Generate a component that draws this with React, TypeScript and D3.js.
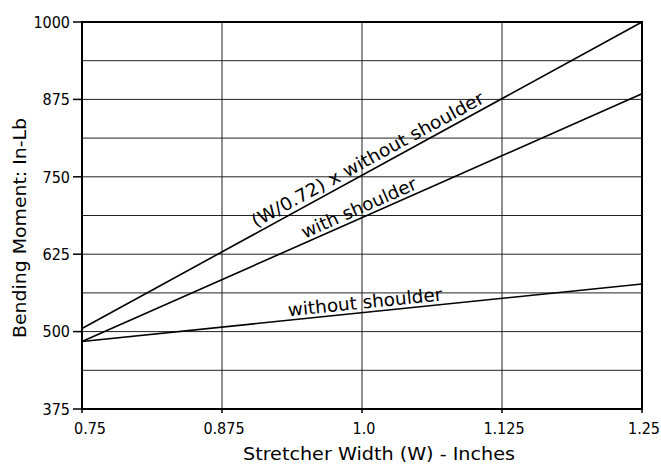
import React from "react";
import * as d3 from "d3";

const widths = [0.75, 1.25];
const withoutShoulder = [484, 577];
const withShoulder = [484, 884];
const scaledWithout = [505, 1000];

const xTicks = [0.75, 0.875, 1.0, 1.125, 1.25];
const xTickLabels = ["0.75", "0.875", "1.0", "1.125", "1.25"];
const yGrid = [375, 437.5, 500, 562.5, 625, 687.5, 750, 812.5, 875, 937.5, 1000];
const yTicks = [375, 500, 625, 750, 875, 1000];
const yTickLabels = ["375", "500", "625", "750", "875", "1000"];

const seriesNames = ["(W/0.72) x without shoulder", "with shoulder", "without shoulder"];

const W = 661, H = 466;
const left = 82, right = 642, top = 22, bottom = 409;
const FONT = "'DejaVu Sans Condensed', 'DejaVu Sans', sans-serif";

export default function App() {
  const x = d3.scaleLinear().domain([0.75, 1.25]).range([left, right]);
  const y = d3.scaleLinear().domain([375, 1000]).range([bottom, top]);
  const line = d3.line<number>().x((_, i) => x(widths[i])).y((d) => y(d));

  const series = [scaledWithout, withShoulder, withoutShoulder];
  // label placement: [x value along line, perpendicular offset px, text length px]
  const labelPos = [
    [1.0098, 5, 262],
    [1.0009, 4, 124],
    [1.0036, 4, 155],
  ];

  return (
    <svg width={W} height={H} style={{ position: "absolute", left: 0, top: 0, background: "#fff" }} fontFamily={FONT}>
      <rect x={0} y={0} width={W} height={H} fill="#fff" />
      {yGrid.map((v) => (
        <line key={"h" + v} x1={left} x2={right} y1={y(v)} y2={y(v)} stroke="#222" strokeWidth={1} />
      ))}
      {xTicks.slice(1, -1).map((v) => (
        <line key={"v" + v} x1={x(v)} x2={x(v)} y1={top} y2={bottom} stroke="#222" strokeWidth={1} />
      ))}
      <rect x={left} y={top} width={right - left} height={bottom - top} fill="none" stroke="#000" strokeWidth={2} />
      {yTicks.map((v, i) => (
        <g key={"yt" + v}>
          <line x1={left - 9} x2={left} y1={y(v)} y2={y(v)} stroke="#000" strokeWidth={1.5} />
          <text x={left - 12} y={y(v)} dy="0.36em" textAnchor="end" fontSize={16} fill="#000">
            {yTickLabels[i]}
          </text>
        </g>
      ))}
      {xTicks.map((v, i) => (
        <g key={"xt" + v}>
          <line x1={x(v)} x2={x(v)} y1={bottom} y2={bottom + 4} stroke="#000" strokeWidth={1.5} />
          <text x={i === 0 ? x(v) + 8 : x(v) + 2} y={bottom + 25} textAnchor="middle" fontSize={16} fill="#000">
            {xTickLabels[i]}
          </text>
        </g>
      ))}
      {series.map((s, i) => (
        <path key={"s" + i} d={line(s) || ""} fill="none" stroke="#000" strokeWidth={1.6} />
      ))}
      {series.map((s, i) => {
        const x0 = x(widths[0]), y0 = y(s[0]);
        const x1 = x(widths[1]), y1 = y(s[1]);
        const ang = Math.atan2(y1 - y0, x1 - x0);
        const [xv, off, len] = labelPos[i];
        const px = x(xv);
        const t = (px - x0) / (x1 - x0);
        const py = y0 + t * (y1 - y0);
        const deg = (ang * 180) / Math.PI;
        const ox = px + Math.sin(ang) * off;
        const oy = py - Math.cos(ang) * off;
        return (
          <text
            key={"l" + i}
            transform={`translate(${ox},${oy}) rotate(${deg})`}
            textAnchor="middle"
            fontSize={18}
            fill="#000"
            textLength={len}
            lengthAdjust="spacingAndGlyphs"
          >
            {seriesNames[i]}
          </text>
        );
      })}
      <text x={379} y={460} textAnchor="middle" fontSize={18} fill="#000" textLength={272} lengthAdjust="spacingAndGlyphs">
        Stretcher Width (W) - Inches
      </text>
      <text
        transform={`translate(26,228) rotate(-90)`}
        textAnchor="middle"
        fontSize={18}
        fill="#000"
        textLength={220}
        lengthAdjust="spacingAndGlyphs"
      >
        Bending Moment: In-Lb
      </text>
    </svg>
  );
}
